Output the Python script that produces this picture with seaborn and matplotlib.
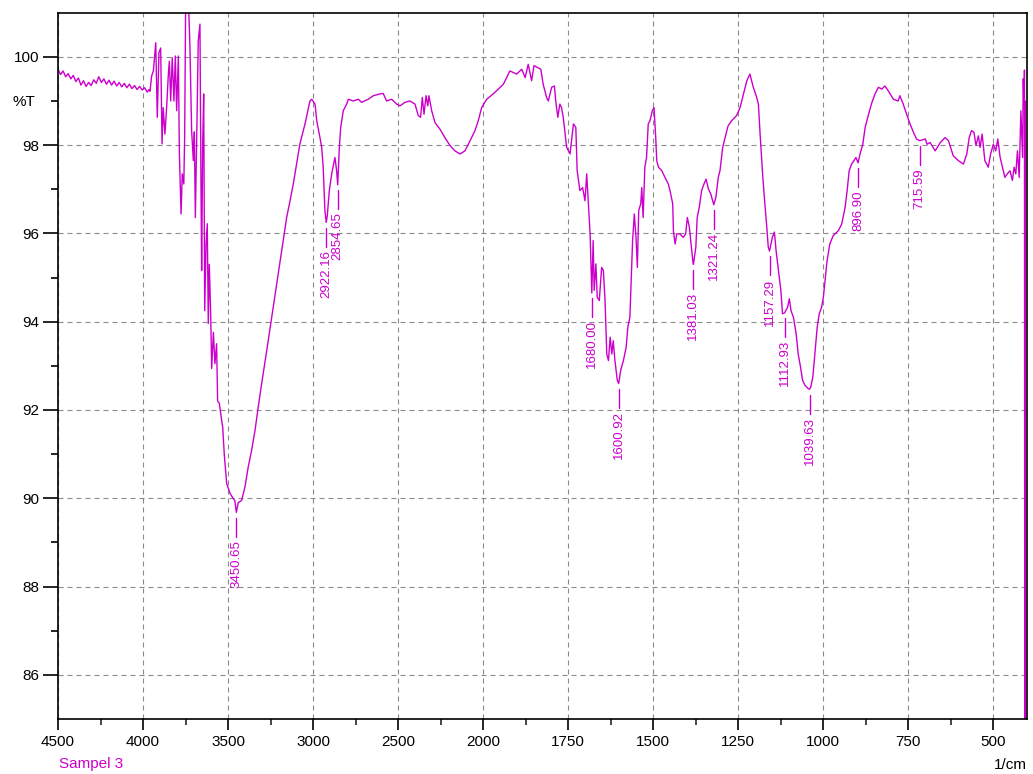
import numpy as np
import pandas as pd
import matplotlib
matplotlib.use("Agg")
import matplotlib.pyplot as plt
import seaborn as sns

# FTIR spectrum of "Sampel 3": wavenumber (1/cm) and transmittance (%T)
wavenumber = [
    4500, 4485, 4470, 4455, 4440, 4425, 4410, 4395, 4380, 4365, 4350, 4335,
    4320, 4305, 4290, 4275, 4260, 4245, 4230, 4215, 4200, 4185, 4170, 4155,
    4140, 4125, 4110, 4095, 4080, 4065, 4050, 4035, 4020, 4005, 3990, 3975,
    3965, 3959,
    3949, 3939, 3925, 3916, 3906, 3896, 3888, 3881, 3871, 3861, 3851, 3845,
    3837, 3828, 3818, 3810, 3802, 3792, 3786, 3776, 3769, 3760, 3755, 3749,
    3733, 3724, 3714, 3704, 3698, 3692, 3684, 3675, 3665, 3659, 3655, 3649,
    3643, 3637, 3629, 3622, 3616, 3610, 3602, 3596, 3586, 3577, 3567, 3561,
    3551, 3543, 3531,
    3522, 3508, 3488, 3470, 3460, 3450.65, 3440, 3420, 3400, 3381, 3361, 3341,
    3322, 3302, 3272, 3243, 3214, 3184, 3155, 3135, 3116, 3077, 3047, 3018,
    3008, 2988, 2978, 2959, 2949, 2940, 2930, 2922.16, 2916, 2904, 2890, 2881,
    2871, 2861, 2854.65, 2845, 2837, 2822, 2802, 2792, 2763, 2734, 2714, 2675,
    2645, 2606, 2587, 2567, 2537, 2508, 2488, 2459, 2430, 2400, 2381, 2367,
    2357, 2347, 2335, 2325, 2318, 2302, 2282, 2253, 2224, 2194, 2165, 2135,
    2106, 2076, 2047, 2028, 2008,
    1989, 1970, 1940, 1921, 1901, 1886, 1876, 1867, 1857, 1850, 1840, 1830,
    1823, 1813, 1808, 1798, 1790, 1786, 1780, 1774, 1769, 1764, 1754, 1744,
    1734, 1727, 1723, 1715, 1707, 1700, 1695, 1690, 1685, 1680, 1676, 1673,
    1668, 1664, 1658, 1651, 1646, 1641, 1636, 1631, 1626, 1621, 1617, 1612,
    1605, 1600.92, 1595, 1587, 1579, 1574, 1568, 1565, 1560, 1555, 1550, 1546,
    1542, 1536, 1533, 1529, 1524, 1519, 1514, 1509, 1502, 1497, 1492, 1489,
    1484, 1474, 1465, 1455, 1450, 1442, 1440, 1435, 1430, 1421, 1411, 1404,
    1399, 1393, 1388, 1383, 1381.03, 1374, 1370, 1364, 1357, 1350, 1344, 1337,
    1330, 1321.24, 1315, 1308, 1303, 1295, 1288, 1279, 1269, 1254, 1244, 1234,
    1224, 1215, 1205, 1195, 1190, 1185, 1177, 1171, 1166, 1161, 1157.29, 1149,
    1143, 1138, 1132, 1124, 1119, 1112.93, 1104, 1099, 1094, 1087, 1079, 1073,
    1066, 1060, 1053, 1043, 1039.63, 1036, 1030, 1024, 1017, 1011, 1004, 999,
    994, 988, 980, 970, 955, 945, 935, 929, 923, 916, 909, 903,
    896.90, 891, 883, 876, 866, 856, 847, 837, 827, 818, 808, 793,
    779, 774, 764, 754, 744, 734, 725, 715.59, 699, 694, 685, 670,
    655, 641, 631, 617, 602, 587, 577, 570, 563, 556, 550, 543,
    538, 532, 524, 514, 507, 499, 492, 486, 479, 472, 465, 458,
    450, 443, 438, 433, 428, 423, 418, 413, 411, 409, 408.5, 407.5,
    406.5, 405.5, 404.5, 403,
]

transmittance = [
    99.72, 99.60, 99.68, 99.55, 99.62, 99.50, 99.58, 99.44, 99.52, 99.36, 99.46, 99.33,
    99.42, 99.35, 99.48, 99.40, 99.55, 99.42, 99.50, 99.38, 99.47, 99.36, 99.45, 99.34,
    99.42, 99.32, 99.40, 99.30, 99.38, 99.28, 99.35, 99.26, 99.33, 99.25, 99.30, 99.20,
    99.26, 99.22,
    99.57, 99.68, 100.32, 98.63, 100.10, 100.20, 98.03, 98.85, 98.25, 98.85, 99.60, 99.90,
    99.00, 99.98, 99.00, 100.02, 98.78, 100.02, 97.80, 96.44, 97.35, 97.12, 98.17, 101.30,
    101.30, 100.25, 98.33, 97.65, 98.30, 96.36, 98.17, 100.36, 100.74, 97.13, 95.16, 98.03,
    99.16, 94.25, 95.77, 96.22, 93.96, 95.30, 94.18, 92.94, 93.76, 93.05, 93.50, 92.20,
    92.15, 91.92, 91.60,
    91.00, 90.34, 90.11, 90.00, 89.95, 89.68, 89.90, 89.95, 90.26, 90.71, 91.09, 91.54,
    92.07, 92.60, 93.35, 94.10, 94.86, 95.61, 96.36, 96.74, 97.12, 98.03, 98.48, 99.00,
    99.04, 98.93, 98.55, 98.17, 97.95, 97.50, 96.52, 96.25, 96.40, 96.97, 97.35, 97.53,
    97.72, 97.42, 97.10, 97.95, 98.40, 98.78, 98.93, 99.04, 99.00, 99.04, 98.97, 99.04,
    99.12, 99.16, 99.17, 99.00, 99.04, 98.93, 98.89, 98.97, 99.00, 98.93, 98.67, 98.63,
    99.08, 98.70, 99.12, 98.89, 99.12, 98.78, 98.51, 98.36, 98.17, 97.99, 97.87, 97.80,
    97.87, 98.10, 98.33, 98.55, 98.85,
    99.04, 99.16, 99.38, 99.68, 99.61, 99.72, 99.53, 99.83, 99.46, 99.80, 99.76, 99.72,
    99.38, 99.08, 99.00, 99.31, 99.34, 99.00, 98.63, 98.93, 98.85, 98.63, 97.95, 97.80,
    98.48, 98.40, 97.42, 96.97, 97.04, 96.74, 97.35, 96.67, 95.99, 94.65, 95.84, 94.71,
    95.31, 94.55, 94.48, 95.23, 95.16, 94.48, 93.27, 93.12, 93.65, 93.27, 93.57, 93.12,
    92.67, 92.60, 92.90, 93.12, 93.42, 93.88, 94.10, 94.78, 95.84, 96.44, 95.91, 95.23,
    96.52, 96.67, 97.04, 96.36, 97.50, 97.72, 98.48, 98.55, 98.78, 98.85, 98.17, 97.65,
    97.50, 97.42, 97.27, 97.12, 96.97, 96.67, 96.06, 95.76, 95.99, 95.99, 95.91, 95.99,
    96.36, 96.14, 95.76, 95.38, 95.30, 95.69, 96.36, 96.59, 96.97, 97.12, 97.23, 97.01,
    96.89, 96.65, 96.82, 97.27, 97.42, 97.95, 98.17, 98.44, 98.55, 98.67, 98.85, 99.16,
    99.46, 99.61, 99.31, 99.08, 98.93, 98.25, 97.27, 96.67, 96.21, 95.69, 95.60, 95.91,
    96.03, 95.61, 95.23, 94.71, 94.18, 94.20, 94.33, 94.52, 94.25, 94.10, 93.73, 93.27,
    92.97, 92.67, 92.56, 92.48, 92.47, 92.52, 92.74, 93.27, 93.88, 94.18, 94.33, 94.55,
    94.93, 95.38, 95.76, 95.95, 96.06, 96.21, 96.59, 96.97, 97.42, 97.57, 97.65, 97.72,
    97.60, 97.80, 98.02, 98.40, 98.70, 98.97, 99.16, 99.31, 99.27, 99.34, 99.23, 99.04,
    99.00, 99.12, 98.93, 98.70, 98.48, 98.29, 98.14, 98.10, 98.14, 98.02, 98.06, 97.87,
    98.06, 98.17, 98.10, 97.76, 97.65, 97.57, 97.80, 98.17, 98.33, 98.29, 97.99, 98.21,
    97.95, 98.25, 97.65, 97.50, 97.80, 98.02, 97.87, 98.14, 97.72, 97.50, 97.27, 97.35,
    97.42, 97.20, 97.50, 97.35, 97.87, 97.27, 98.78, 97.72, 99.50, 98.90, 99.20, 99.70,
    84.00, 99.00, 84.00, 84.00,
]

# Labelled absorption bands
peak_wavenumber = [3450.65, 2922.16, 2854.65, 1680.00, 1600.92, 1381.03,
                   1321.24, 1157.29, 1112.93, 1039.63, 896.90, 715.59]
peak_transmittance = [89.68, 96.25, 97.10, 94.65, 92.60, 95.30,
                      96.65, 95.60, 94.20, 92.47, 97.60, 98.10]

x_major = [4500, 4000, 3500, 3000, 2500, 2000, 1750, 1500, 1250, 1000, 750, 500]
x_minor = [4250, 3750, 3250, 2750, 2250, 1875, 1625, 1375, 1125, 875, 625]
y_major = [86, 88, 90, 92, 94, 96, 98, 100]
y_minor = [87, 89, 91, 93, 95, 97, 99]

LINE = "#CC00CC"


# Wavenumber axis: 500 per division above 2000, 250 per division below
def forward(w):
    w = np.asarray(w, dtype=float)
    return np.where(w <= 2000, (w - 400.0) / 250.0, 6.4 + (w - 2000.0) / 500.0)


def inverse(u):
    u = np.asarray(u, dtype=float)
    return np.where(u <= 6.4, 400.0 + 250.0 * u, 2000.0 + 500.0 * (u - 6.4))


sns.set_style("white")
plt.rcParams["font.family"] = ["Liberation Sans", "DejaVu Sans"]

W, H = 1033, 774
fig = plt.figure(figsize=(W / 100, H / 100), dpi=100)
ax = fig.add_axes([58 / W, 1 - 719 / H, (1027 - 58) / W, (719 - 12.7) / H])

df = pd.DataFrame({"wavenumber": wavenumber, "transmittance": transmittance})
sns.lineplot(data=df, x="wavenumber", y="transmittance", ax=ax, sort=False,
             estimator=None, color=LINE, linewidth=1.0)

ax.set_xscale("function", functions=(forward, inverse))
ax.set_xlim(4500, 400)
ax.set_ylim(85, 101)

ax.set_xticks(x_major)
ax.set_xticklabels([str(v) for v in x_major])
ax.set_xticks(x_minor, minor=True)
ax.set_yticks(y_major)
ax.set_yticklabels([str(v) for v in y_major])
ax.set_yticks(y_minor, labels=["%T" if v == 99 else "" for v in y_minor], minor=True)

ax.set_xlabel("")
ax.set_ylabel("")

ax.grid(True, which="major", color="#8a8a8a", linestyle=(0, (4.5, 3.6)), linewidth=0.8)
ax.set_axisbelow(True)

for s in ax.spines.values():
    s.set_color("black")
    s.set_linewidth(1.2)

ax.tick_params(axis="y", which="major", direction="out", length=10.8, width=1.2,
               pad=2.9, labelsize=11, colors="black")
ax.tick_params(axis="y", which="minor", direction="out", length=5, width=1.2,
               pad=11.5, labelsize=11, colors="black")
ax.tick_params(axis="x", which="major", direction="out", length=7.9, width=1.2,
               pad=3.6, labelsize=11, colors="black")
ax.tick_params(axis="x", which="minor", direction="out", length=4.3, width=1.2)
ax.tick_params(left=True, bottom=True, which="both")

# Peak markers: short tick below each band minimum with a vertical label
for w, t in zip(peak_wavenumber, peak_transmittance):
    ax.plot([w, w], [t - 0.12, t - 0.55], color=LINE, linewidth=1.0)
    ax.text(w, t - 0.62, f"{w:.2f}", rotation=90, ha="center", va="top",
            color=LINE, fontsize=9.5)

fig.text(59 / W, 1 - 764 / H, "Sampel 3", color=LINE, fontsize=11,
         ha="left", va="center")
fig.text(1027 / W, 1 - 765 / H, "1/cm", color="black", fontsize=11,
         ha="right", va="center")

fig.savefig("out.png", dpi=100)
